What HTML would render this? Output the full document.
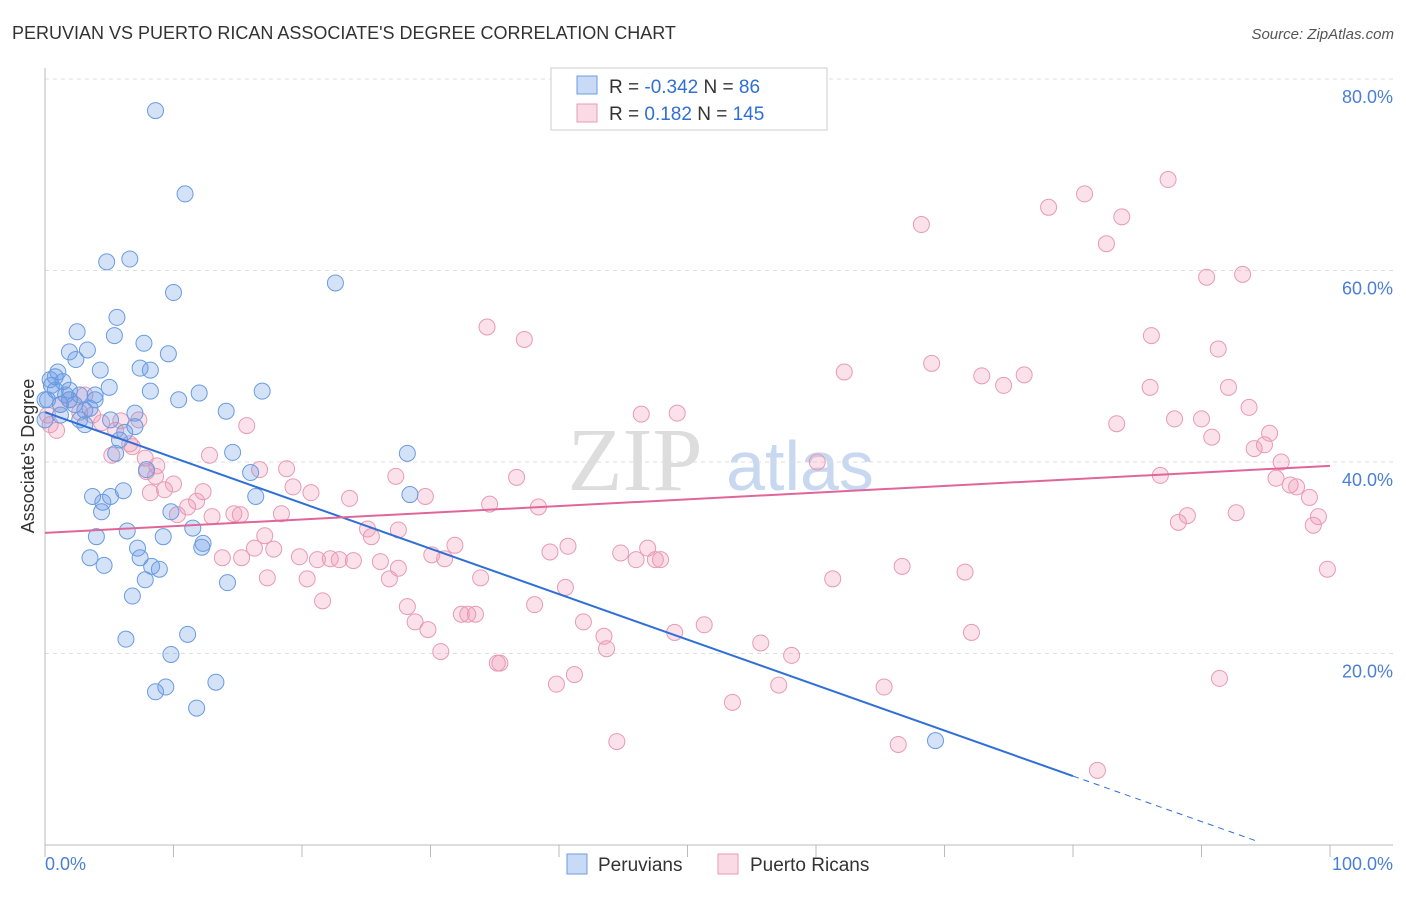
<!DOCTYPE html>
<html><head><meta charset="utf-8"><style>
body{margin:0;background:#fff;font-family:"Liberation Sans",sans-serif}
#c{position:relative;width:1406px;height:892px}
</style></head><body>
<div id="c">
<svg id="s" width="1406" height="892" xmlns="http://www.w3.org/2000/svg">
<text x="12" y="39" font-size="18" fill="#333">PERUVIAN VS PUERTO RICAN ASSOCIATE'S DEGREE CORRELATION CHART</text>
<text x="1394" y="39" font-size="15" fill="#555" font-style="italic" text-anchor="end">Source: ZipAtlas.com</text>
<text x="34" y="456" font-size="18" fill="#333" text-anchor="middle" transform="rotate(-90 34 456)">Associate's Degree</text>
<text x="635" y="490" font-size="90" fill="#ddd" font-family="Liberation Serif" text-anchor="middle">ZIP</text>
<text x="800" y="490" font-size="70" fill="#c8d8f0" text-anchor="middle">atlas</text>
<g id="grid"></g><g id="marks"></g><g id="lines"></g>
<g>
<rect x="551" y="68" width="276" height="62" fill="#fff" stroke="#ccc"/>
<rect x="577" y="76" width="20" height="18" fill="rgba(100,150,230,0.35)" stroke="#6a9be0"/>
<text x="609" y="93" font-size="19" fill="#333">R = <tspan fill="#2f6fd6">-0.342</tspan>   N = <tspan fill="#2f6fd6"> 86</tspan></text>
<rect x="577" y="104" width="20" height="18" fill="rgba(240,150,180,0.35)" stroke="#e89ab5"/>
<text x="609" y="120" font-size="19" fill="#333">R =   <tspan fill="#2f6fd6">0.182</tspan>   N = <tspan fill="#2f6fd6">145</tspan></text>
</g>
<g>
<rect x="567" y="854" width="20" height="20" fill="rgba(100,150,230,0.35)" stroke="#6a9be0"/>
<text x="598" y="871" font-size="19" fill="#333">Peruvians</text>
<rect x="718" y="854" width="20" height="20" fill="rgba(240,150,180,0.35)" stroke="#e89ab5"/>
<text x="750" y="871" font-size="19" fill="#333">Puerto Ricans</text>
</g>
<text x="45" y="870" font-size="18" fill="#4a7fd6">0.0%</text>
<text x="1393" y="870" font-size="18" fill="#4a7fd6" text-anchor="end">100.0%</text>
</svg></div>
<script>
const yTicks=[20,40,60,80];
const xTicks=[0,10,20,30,40,50,60,70,80,90,100];
const blueX=[8.6,10.9,4.8,6.6,10.0,22.6,5.6,2.5,5.4,7.7,1.9,3.3,9.6,2.4,4.3,7.4,8.2,0.8,1.4,5.0,8.2,12.0,16.9,10.4,3.9,2.7,1.9,1.2,3.5,14.1,7.0,3.1,7.0,5.8,6.2,14.6,28.2,5.5,7.9,16.0,3.7,6.1,5.1,4.5,16.4,28.4,9.8,4.4,11.5,6.4,4.0,9.2,12.3,12.2,7.2,7.4,3.5,4.6,8.3,8.9,7.8,14.2,6.8,11.1,6.3,9.8,13.3,9.4,8.6,11.8,69.3,0.4,0.8,1.6,2.3,3.1,1.2,0.2,0.5,1.0,0,1.9,3.9,0,2.7,5.1];
const blueY=[76.7,68.0,60.9,61.2,57.7,58.7,55.1,53.6,53.2,52.4,51.5,51.7,51.3,50.7,49.6,49.8,49.6,48.9,48.4,47.8,47.4,47.2,47.4,46.5,46.5,47.0,46.5,46.0,45.6,45.3,45.1,43.9,43.7,42.3,43.1,41.0,40.9,40.9,39.2,38.9,36.4,37.0,36.4,35.8,36.4,36.6,34.8,34.8,33.1,32.8,32.2,32.2,31.5,31.1,31.0,30.0,30.0,29.2,29.1,28.8,27.7,27.4,26.0,22.0,21.5,19.9,17.0,16.5,16.0,14.3,10.9,48.6,47.5,47.0,46.0,45.4,44.9,46.5,48.0,49.4,44.4,47.5,47.0,46.5,44.4,44.4];
const pinkX=[87.4,80.9,78.1,83.8,68.2,82.6,93.2,90.4,34.4,37.3,86.1,91.3,69.0,62.2,76.2,72.9,74.6,86.0,92.1,46.4,49.2,93.7,87.9,90.0,83.4,90.8,95.3,94.9,94.1,15.7,12.8,60.1,96.2,86.8,95.8,96.9,97.4,98.4,99.1,98.7,92.7,88.9,88.2,99.8,91.4,81.9,66.4,65.3,72.1,71.6,66.7,61.3,58.1,55.7,53.5,57.1,51.3,49.0,44.5,41.2,39.8,41.9,43.5,43.7,40.5,38.1,35.4,35.2,33.5,32.4,32.9,30.8,29.8,28.8,28.2,26.8,33.9,31.1,30.1,31.9,27.5,26.1,25.4,25.1,24.0,22.9,22.2,21.2,20.4,19.8,21.6,17.3,15.3,13.8,16.3,17.8,17.1,18.4,19.3,20.7,23.7,27.5,27.3,29.6,34.6,38.4,36.7,39.3,40.7,44.8,46.0,46.9,47.5,47.9,14.7,13.0,11.1,10.3,11.8,12.3,9.3,8.2,10.0,8.6,7.9,8.7,16.7,18.8,6.6,5.2,5.5,7.3,5.9,4.4,3.7,2.7,1.9,1.2,0.4,3.1,7.8,6.8,0.2,0.9,15.2];
const pinkY=[69.5,68.0,66.6,65.6,64.8,62.8,59.6,59.3,54.1,52.8,53.2,51.8,50.3,49.4,49.1,49.0,48.0,47.8,47.8,45.0,45.1,45.7,44.5,44.5,44.0,42.6,43.0,41.8,41.4,43.8,40.7,40.0,40.0,38.6,38.3,37.6,37.4,36.3,34.3,33.4,34.7,34.4,33.7,28.8,17.4,7.8,10.5,16.5,22.2,28.5,29.1,27.8,19.8,21.1,14.9,16.7,23.0,22.2,10.8,17.8,16.8,23.3,21.8,20.5,26.9,25.1,19.0,19.0,24.1,24.1,24.1,20.2,22.5,23.3,24.9,27.8,27.9,29.9,30.3,31.3,28.9,29.6,32.2,33.0,29.7,29.8,29.9,29.8,27.8,30.1,25.5,27.9,30.0,30.0,31.0,30.9,32.3,34.6,37.4,36.8,36.2,32.9,38.5,36.4,35.6,35.3,38.4,30.6,31.2,30.5,29.8,31.0,29.8,29.8,34.6,34.3,35.3,34.5,35.9,36.9,37.1,36.8,37.7,38.5,39.0,39.6,39.2,39.3,41.9,40.7,43.3,44.4,44.3,44.1,44.9,45.2,46.5,46.0,43.9,47.0,40.4,41.6,44.9,43.3,34.5];
const blueTrend=[45.2,-0.475];
const pinkTrend=[32.6,0.07];
const NS='http://www.w3.org/2000/svg';
const X=v=>45+v*12.85, Y=v=>845-v*9.575;
function mk(t,a,p){const e=document.createElementNS(NS,t);for(const k in a)e.setAttribute(k,a[k]);p.appendChild(e);return e;}
const g=document.getElementById('grid'),m=document.getElementById('marks'),l=document.getElementById('lines');
yTicks.forEach(v=>{
 const ln=mk('line',{x1:45,x2:1393,y1:Y(v),y2:Y(v),stroke:'#ddd','stroke-dasharray':'4,4'},g);
 
 
 const t=mk('text',{x:1393,y:Y(v)+24,'font-size':18,fill:'#4a7fd6','text-anchor':'end'},g);
 t.textContent=v.toFixed(1)+'%';
 
 
});
const tl=mk('line',{x1:45,x2:1393,y1:Y(80),y2:Y(80),stroke:'#ddd','stroke-dasharray':'4,4'},g);
mk('line',{x1:45,x2:45,y1:68,y2:845,stroke:'#bbb'},g);
mk('line',{x1:45,x2:1393,y1:845,y2:845,stroke:'#bbb'},g);
xTicks.forEach(v=>{
 const t=mk('line',{x1:X(v),x2:X(v),y1:845,y2:857,stroke:'#bbb'},g);
 
 
});
function pts(xs,ys,fill,stroke,name){xs.forEach((x,i)=>{
 const c=mk('circle',{cx:X(x),cy:Y(ys[i]),r:8,fill:fill,stroke:stroke,'stroke-width':1},m);
 
 
});}
pts(pinkX,pinkY,'rgba(240,150,180,0.28)','#e89ab5','puerto-rican-point');
pts(blueX,blueY,'rgba(100,150,230,0.28)','#6a9be0','peruvian-point');
const f=(t,x)=>t[0]+t[1]*x;
const b1=mk('line',{x1:X(0),y1:Y(f(blueTrend,0)),x2:X(80),y2:Y(f(blueTrend,80)),stroke:'#2f6fd6','stroke-width':2},l);


const b2=mk('line',{x1:X(80),y1:Y(f(blueTrend,80)),x2:X(94.5),y2:Y(f(blueTrend,94.5)),stroke:'#2f6fd6','stroke-width':1,'stroke-dasharray':'6,5'},l);


const p1=mk('line',{x1:X(0),y1:Y(f(pinkTrend,0)),x2:X(100),y2:Y(f(pinkTrend,100)),stroke:'#e0669a','stroke-width':2},l);


</script>
</body></html>
